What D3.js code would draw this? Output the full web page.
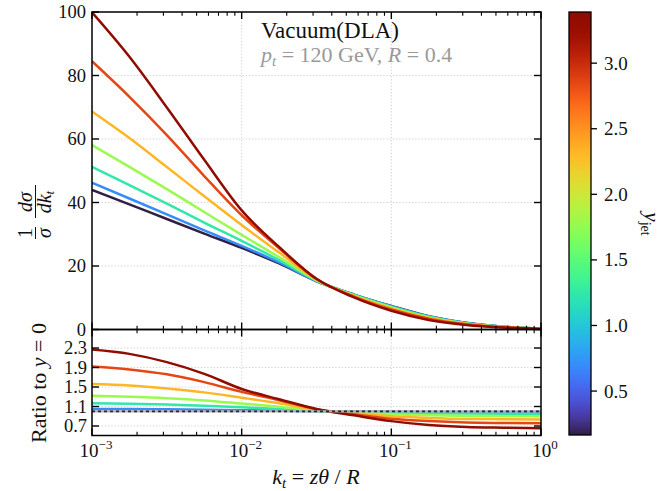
<!DOCTYPE html>
<html><head><meta charset="utf-8">
<script src="https://cdn.jsdelivr.net/npm/d3@7"></script>
<style>
body{margin:0;background:#fff}
text{font-family:"Liberation Serif","DejaVu Serif",serif;fill:#111}
</style>
</head><body>
<svg id="c" width="667" height="491"></svg>
<script>
// ---- data ----
const logKt = [-3, -2.75, -2.5, -2.25, -2, -1.75, -1.5, -1.25, -1, -0.75, -0.5, -0.25, 0];
const yjet = [0.17, 0.70, 1.24, 1.78, 2.32, 2.85, 3.39];
// 1/sigma dsigma/dk_t for the lowest rapidity curve (reference for the ratio)
const baseDist = [44, 39.4, 34.8, 30.2, 25.7, 20.8, 15.2, 11.0, 7.4, 4.2, 2.1, 0.9, 0.25];
// ratio to y = 0 for each rapidity
const ratio0 = [1, 1, 1, 1, 1, 1, 1, 1, 1, 1, 1, 1, 1];
const ratio1 = [1.05, 1.047, 1.042, 1.034, 1.025, 1.015, 1.003, 0.996, 0.991, 0.988, 0.986, 0.985, 0.985];
const ratio2 = [1.165, 1.155, 1.14, 1.115, 1.085, 1.05, 1.01, 0.988, 0.97, 0.96, 0.954, 0.951, 0.95];
const ratio3 = [1.32, 1.30, 1.27, 1.225, 1.16, 1.095, 1.02, 0.975, 0.94, 0.918, 0.906, 0.902, 0.90];
const ratio4 = [1.56, 1.53, 1.47, 1.39, 1.28, 1.165, 1.035, 0.96, 0.90, 0.865, 0.845, 0.84, 0.835];
const ratio5 = [1.92, 1.86, 1.76, 1.60, 1.40, 1.23, 1.045, 0.94, 0.85, 0.80, 0.77, 0.76, 0.755];
const ratio6 = [2.27, 2.18, 2.01, 1.77, 1.46, 1.25, 1.05, 0.92, 0.80, 0.72, 0.68, 0.665, 0.655];
const ratios = [ratio0, ratio1, ratio2, ratio3, ratio4, ratio5, ratio6];
const yTicksTop = [0, 20, 40, 60, 80, 100];
const yTicksRatio = [0.7, 1.1, 1.5, 1.9, 2.3];
const cbTicks = [0.5, 1.0, 1.5, 2.0, 2.5, 3.0];
const xMajor = [1e-3, 1e-2, 1e-1, 1];
const xLabelsExp = ["−3", "−2", "−1", "0"];

// ---- layout ----
const L = 92, R = 541, T = 12, MID = 329.5, B = 435.5;
const svg = d3.select("#c");
const x = d3.scaleLog().domain([1e-3, 1]).range([L, R]);
const yT = d3.scaleLinear().domain([0, 100]).range([MID, T]);
const yR = d3.scaleLinear().domain([0.505, 2.68]).range([B, MID]);
const cbScale = d3.scaleLinear().domain([0.165, 3.39]).range([435, 12]);
const turbo = t => d3.interpolateTurbo(0.012 + 0.988 * t);
const color = v => turbo((v - 0.165) / (3.39 - 0.165));

const defs = svg.append("defs");
defs.append("clipPath").attr("id", "clipT").append("rect").attr("x", L).attr("y", T - 2).attr("width", R - L).attr("height", MID - T + 2);
defs.append("clipPath").attr("id", "clipR").append("rect").attr("x", L).attr("y", MID).attr("width", R - L).attr("height", B - MID);

// grids
const gridStyle = s => s.attr("stroke", "#c8c8c8").attr("stroke-width", 0.9).attr("stroke-dasharray", "1.2,2");
function grid(yScale, ticks, y0, y1) {
  const g = svg.append("g");
  g.selectAll("line.h").data(ticks.filter(t => yScale(t) > y1 + 1 && yScale(t) < y0 - 1)).join("line")
    .attr("x1", L).attr("x2", R).attr("y1", d => yScale(d)).attr("y2", d => yScale(d)).call(gridStyle);
  g.selectAll("line.v").data([1e-2, 1e-1]).join("line")
    .attr("x1", d => x(d)).attr("x2", d => x(d)).attr("y1", y1).attr("y2", y0).call(gridStyle);
}
grid(yT, yTicksTop, MID, T);
grid(yR, yTicksRatio, B, MID);

// series
const ptsTop = ratios.map(r => logKt.map((lk, i) => [10 ** lk, baseDist[i] * r[i]]));
const ptsRat = ratios.map(r => logKt.map((lk, i) => [10 ** lk, r[i]]));
const lineT = d3.line().x(d => x(d[0])).y(d => yT(d[1])).curve(d3.curveMonotoneX);
const lineR = d3.line().x(d => x(d[0])).y(d => yR(d[1])).curve(d3.curveMonotoneX);

const gT = svg.append("g").attr("clip-path", "url(#clipT)");
gT.selectAll("path").data(ptsTop).join("path")
  .attr("d", lineT).attr("fill", "none").attr("stroke", (d, i) => color(yjet[i])).attr("stroke-width", 2.5);

const gR = svg.append("g").attr("clip-path", "url(#clipR)");
gR.selectAll("path").data(ptsRat.slice(1)).join("path")
  .attr("d", lineR).attr("fill", "none").attr("stroke", (d, i) => color(yjet[i + 1])).attr("stroke-width", 2.5);
gR.append("line").attr("x1", L).attr("x2", R).attr("y1", yR(1)).attr("y2", yR(1))
  .attr("stroke", "#b0b0b0").attr("stroke-width", 2.2);
gR.append("path").datum(ptsRat[0]).attr("d", lineR).attr("fill", "none")
  .attr("stroke", color(yjet[0])).attr("stroke-width", 1.6).attr("stroke-dasharray", "3,3");

// ticks (inward)
const isMajor = d => xMajor.some(m => Math.abs(m - d) / m < 1e-6);
function xTicks(yPos, dir) {
  svg.append("g").selectAll("line").data(x.ticks()).join("line")
    .attr("x1", d => x(d)).attr("x2", d => x(d))
    .attr("y1", yPos)
    .attr("y2", d => yPos + dir * (isMajor(d) ? 7 : 3.8))
    .attr("stroke", "#000").attr("stroke-width", d => isMajor(d) ? 1.4 : 1.1);
}
xTicks(T, 1); xTicks(MID, -1); xTicks(MID, 1); xTicks(B, -1);

function yTicks(yScale, ticks) {
  const g = svg.append("g");
  g.selectAll("line.l").data(ticks).join("line").attr("x1", L).attr("x2", L + 7)
    .attr("y1", d => yScale(d)).attr("y2", d => yScale(d)).attr("stroke", "#000").attr("stroke-width", 1.4);
  g.selectAll("line.r").data(ticks).join("line").attr("x1", R).attr("x2", R - 7)
    .attr("y1", d => yScale(d)).attr("y2", d => yScale(d)).attr("stroke", "#000").attr("stroke-width", 1.4);
}
yTicks(yT, yTicksTop);
yTicks(yR, yTicksRatio);

// frames
svg.append("rect").attr("x", L).attr("y", T).attr("width", R - L).attr("height", MID - T)
  .attr("fill", "none").attr("stroke", "#000").attr("stroke-width", 1.5);
svg.append("rect").attr("x", L).attr("y", MID).attr("width", R - L).attr("height", B - MID)
  .attr("fill", "none").attr("stroke", "#000").attr("stroke-width", 1.5);

// tick labels
svg.append("g").selectAll("text").data(yTicksTop).join("text")
  .attr("x", 86).attr("y", d => yT(d) + 6).attr("text-anchor", "end").attr("font-size", 18.5).text(d => d);
svg.append("g").selectAll("text").data(yTicksRatio).join("text")
  .attr("x", 87).attr("y", d => yR(d) + 6).attr("text-anchor", "end").attr("font-size", 18.5).text(d => d.toFixed(1));
const xl = svg.append("g").selectAll("text").data(xMajor).join("text")
  .attr("x", d => x(d) + 4).attr("y", 456.5).attr("text-anchor", "middle").attr("font-size", 19);
xl.append("tspan").text("10");
xl.append("tspan").attr("dy", -8).attr("font-size", 13).text((d, i) => xLabelsExp[i]);

// axis titles
const xt = svg.append("text").attr("x", 316).attr("y", 484).attr("text-anchor", "middle").attr("font-size", 22);
xt.append("tspan").attr("font-style", "italic").text("k");
xt.append("tspan").attr("font-style", "italic").attr("font-size", 15).attr("dy", 4).text("t");
xt.append("tspan").attr("dy", -4).text(" = ");
xt.append("tspan").attr("font-style", "italic").text("zθ");
xt.append("tspan").text(" / ");
xt.append("tspan").attr("font-style", "italic").text("R");

const yl = svg.append("g").attr("transform", "translate(37,213) rotate(-90)");
const fs = 20;
yl.append("text").attr("x", -20).attr("y", -5).attr("text-anchor", "middle").attr("font-size", fs).text("1");
yl.append("text").attr("x", -20).attr("y", 14).attr("text-anchor", "middle").attr("font-size", fs).attr("font-style", "italic").text("σ");
yl.append("line").attr("x1", -26).attr("x2", -14).attr("y1", -1.5).attr("y2", -1.5).attr("stroke", "#111").attr("stroke-width", 1);
yl.append("text").attr("x", 11).attr("y", -5).attr("text-anchor", "middle").attr("font-size", fs).attr("font-style", "italic").text("dσ");
const dk = yl.append("text").attr("x", 11).attr("y", 14).attr("text-anchor", "middle").attr("font-size", fs).attr("font-style", "italic");
dk.append("tspan").text("dk");
dk.append("tspan").attr("font-size", 13).attr("dy", 3).text("t");
yl.append("line").attr("x1", -5).attr("x2", 28).attr("y1", -1.5).attr("y2", -1.5).attr("stroke", "#111").attr("stroke-width", 1);

const rl = svg.append("text").attr("transform", "translate(46,383) rotate(-90)").attr("text-anchor", "middle").attr("font-size", 22);
rl.append("tspan").text("Ratio to ");
rl.append("tspan").attr("font-style", "italic").text("y");
rl.append("tspan").text(" = 0");

// annotation
svg.append("text").attr("x", 261).attr("y", 38).attr("font-size", 23).text("Vacuum(DLA)");
const an = svg.append("text").attr("x", 261).attr("y", 62).attr("font-size", 22).style("fill", "#9a9a9a");
an.append("tspan").attr("font-style", "italic").text("p");
an.append("tspan").attr("font-style", "italic").attr("font-size", 15).attr("dy", 4).text("t");
an.append("tspan").attr("dy", -4).text(" = 120 GeV, ");
an.append("tspan").attr("font-style", "italic").text("R");
an.append("tspan").text(" = 0.4");

// colorbar
const CBX = 569, CBW = 22;
const grad = defs.append("linearGradient").attr("id", "cbg").attr("x1", 0).attr("x2", 0).attr("y1", 1).attr("y2", 0);
d3.range(0, 1.0001, 0.02).forEach(t => grad.append("stop").attr("offset", t).attr("stop-color", turbo(t)));
svg.append("rect").attr("x", CBX).attr("y", cbScale(3.39)).attr("width", CBW).attr("height", cbScale(0.165) - cbScale(3.39))
  .attr("fill", "url(#cbg)").attr("stroke", "#000").attr("stroke-width", 1.3);
const cbg = svg.append("g");
cbg.selectAll("line").data(cbTicks).join("line").attr("x1", CBX + CBW).attr("x2", CBX + CBW + 6)
  .attr("y1", d => cbScale(d)).attr("y2", d => cbScale(d)).attr("stroke", "#000").attr("stroke-width", 1.3);
cbg.selectAll("text").data(cbTicks).join("text").attr("x", 604).attr("y", d => cbScale(d) + 6.5)
  .attr("font-size", 19).text(d => d.toFixed(1));
const cl = svg.append("text").attr("transform", "translate(645,224) rotate(90)").attr("text-anchor", "middle").attr("font-size", 21);
cl.append("tspan").attr("font-style", "italic").text("y");
cl.append("tspan").attr("font-size", 14).attr("dy", 4).text("jet");
</script>
</body></html>
